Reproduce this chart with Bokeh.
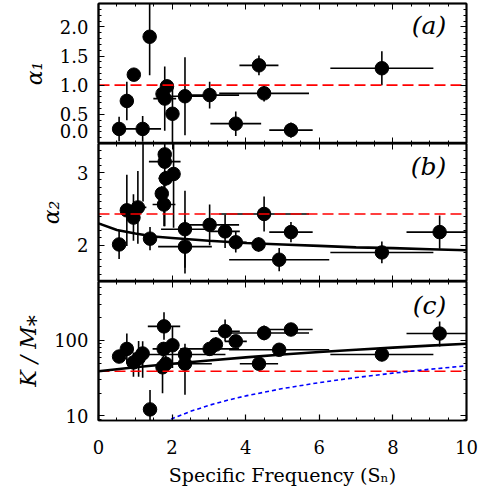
from bokeh.plotting import figure
from bokeh.layouts import column
from bokeh.models import (ColumnDataSource, FixedTicker, LinearAxis, LogAxis, Range1d,
                          Label, NumeralTickFormatter, BasicTickFormatter)
from bokeh.embed import file_html
from bokeh.resources import INLINE

# ---------------- data ----------------
# panel (a): alpha_1
a_x    = [0.56, 1.20, 0.77, 0.96, 1.39, 1.74, 1.80, 1.86, 2.01, 2.35, 3.02, 3.73, 4.36, 4.50, 5.23, 7.70]
a_y    = [0.25, 0.25, 0.73, 1.18, 1.83, 0.85, 0.77, 0.98, 0.51, 0.81, 0.83, 0.34, 1.34, 0.86, 0.23, 1.29]
a_xerr = [0.08, 0.50, 0.10, 0.14, 0.18, 0.05, 0.31, 0.05, 0.05, 0.65, 0.80, 0.69, 0.53, 1.22, 0.59, 1.40]
a_yerr = [0.21, 0.22, 0.33, 0.11, 0.66, 0.10, 0.55, 0.10, 0.49, 0.67, 0.23, 0.21, 0.17, 0.14, 0.13, 0.29]
a_ref = 1.0
a_ticks = [0.0, 0.5, 1.0, 1.5, 2.0]
a_tick_labels = ["0.0", "0.5", "1.0", "1.5", "2.0"]

# panel (b): alpha_2
b_x    = [0.56, 0.77, 0.95, 1.07, 1.21, 1.40, 1.80, 1.80, 1.83, 2.04, 1.72, 1.78, 2.35, 2.35, 3.02, 3.44, 3.73, 4.35, 4.50, 5.23, 4.91, 7.70, 9.27]
b_y    = [2.01, 2.48, 2.38, 2.52, 3.60, 2.09, 3.25, 3.15, 2.92, 2.98, 2.71, 2.56, 2.22, 1.98, 2.28, 2.19, 2.04, 2.01, 2.43, 2.18, 1.80, 1.90, 2.18]
b_xerr = [0.05, 0.10, 0.10, 0.23, 0.10, 0.17, 0.05, 0.43, 0.20, 0.05, 0.05, 0.31, 0.65, 0.73, 0.80, 0.40, 0.30, 0.15, 1.22, 0.59, 1.36, 1.40, 0.90]
b_yerr = [0.20, 0.49, 0.32, 0.50, 1.00, 0.16, 0.99, 0.10, 0.10, 0.74, 0.10, 0.30, 0.53, 0.37, 0.28, 0.23, 0.14, 0.10, 0.24, 0.14, 0.16, 0.15, 0.23]
b_ref = 2.43
b_fit_x = [0, 0.5, 1, 1.5, 2, 3, 4, 5, 6, 7, 8, 9, 10]
b_fit_y = [2.30, 2.21, 2.16, 2.12, 2.10, 2.06, 2.03, 2.01, 1.99, 1.97, 1.96, 1.945, 1.93]
b_ticks = [2, 3]

# panel (c): K / M*
c_x    = [0.56, 0.77, 0.95, 1.09, 1.20, 1.40, 1.78, 1.77, 1.83, 1.74, 2.01, 2.35, 2.35, 3.02, 3.19, 3.44, 3.73, 4.36, 4.50, 5.23, 4.91, 7.70, 9.27]
c_y    = [61, 77, 51, 58, 67, 12.2, 153, 77, 49, 44, 86, 65, 49, 77, 88, 132, 97, 49, 125, 139, 75, 65, 123]
c_ylo  = [55, 49, 33, 33, 32, 8, 102, 60, 38, 20, 43, 45, 19, 63, 70, 97, 82, 42, 100, 125, 62, 53, 83]
c_yhi  = [68, 123, 69, 98, 97, 22, 236, 95, 62, 61, 153, 90, 75, 95, 110, 188, 115, 57, 157, 155, 90, 80, 178]
c_xerr = [0.08, 0.10, 0.10, 0.10, 0.10, 0.17, 0.44, 0.30, 0.05, 0.05, 0.05, 1.10, 0.73, 0.80, 0.10, 0.40, 0.30, 0.52, 1.22, 0.59, 1.36, 1.40, 0.90]
c_ref = 39
c_fit_x = [0, 1, 2, 3, 4, 5, 6, 7, 8, 9, 10]
c_fit_y = [39, 44, 49, 54, 59.5, 65, 70, 75, 80, 85, 90]
c_blue_x = [1.8, 2, 2.5, 3, 3.5, 4, 5, 6, 7, 8, 9, 10]
c_blue_y = [8.3, 9.2, 11.5, 13.8, 16.1, 18.4, 23, 27.6, 32.2, 36.8, 41.4, 46]
c_ticks = [10, 100]

x_ticks = [0, 2, 4, 6, 8, 10]
x_minor = [i * 0.5 for i in range(21)]

FONT = "DejaVu Serif"
FW = 368
LEFT = 98
RIGHT = 24
A_ZERO_LABEL_SHIFT = 0.21   # the "0.0" label sits a little above the panel edge in the original


def base_style(ax):
    ax.axis_line_color = "black"
    ax.axis_line_width = 1.5
    ax.major_tick_line_width = 1.2
    ax.minor_tick_line_width = 1.0
    ax.major_tick_out = 0
    ax.minor_tick_out = 0


def hidden_axes(p, side, majors, minors, log):
    AxCls = LogAxis if log else LinearAxis
    for pos, ln in ((majors, 6), (minors, 3)):
        ax = AxCls(ticker=FixedTicker(ticks=[], minor_ticks=pos))
        base_style(ax)
        ax.major_tick_in = 0
        ax.minor_tick_in = ln
        ax.major_label_standoff = 0
        ax.axis_label_standoff = 0
        p.add_layout(ax, side)


def make_panel(fh, yr, log, yticks, yminor, label_pos, yfmt, overrides, ylabel,
               bottom_labels, top_border):
    p = figure(frame_width=FW, frame_height=fh, x_range=Range1d(0, 10), y_range=yr,
               y_axis_type="log" if log else "linear",
               x_axis_location=None, y_axis_location=None,
               output_backend="svg", toolbar_location=None,
               min_border_left=LEFT, min_border_right=RIGHT,
               min_border_top=top_border, min_border_bottom=0,
               background_fill_color="white", border_fill_color="white",
               outline_line_color="black", outline_line_width=1.5)
    p.xgrid.visible = False
    p.ygrid.visible = False
    AxCls = LogAxis if log else LinearAxis
    # tick marks on the left (inside), then the labelled axis without tick marks
    hidden_axes(p, "left", yticks, yminor, log)
    yl = AxCls(ticker=FixedTicker(ticks=label_pos, minor_ticks=[]), formatter=yfmt)
    base_style(yl)
    yl.major_tick_in = 0
    yl.minor_tick_in = 0
    if overrides is not None:
        yl.major_label_overrides = overrides
    yl.major_label_text_font = FONT
    yl.major_label_text_font_size = "18px"
    yl.major_label_text_color = "black"
    yl.major_label_standoff = 10
    yl.axis_label = ylabel
    yl.axis_label_text_font = FONT
    yl.axis_label_text_font_style = "italic"
    yl.axis_label_text_font_size = "22px"
    yl.axis_label_text_color = "black"
    yl.axis_label_standoff = 10
    p.add_layout(yl, "left")
    hidden_axes(p, "right", yticks, yminor, log)
    hidden_axes(p, "above", x_ticks, x_minor, False)
    if bottom_labels:
        xb = LinearAxis(ticker=FixedTicker(ticks=x_ticks, minor_ticks=x_minor),
                        formatter=BasicTickFormatter())
        base_style(xb)
        xb.major_tick_in = 6
        xb.minor_tick_in = 3
        xb.major_label_text_font = FONT
        xb.major_label_text_font_size = "18px"
        xb.major_label_text_color = "black"
        xb.major_label_standoff = 19
        xb.axis_label = "Specific Frequency (S\u2099)"
        xb.axis_label_text_font = FONT
        xb.axis_label_text_font_style = "normal"
        xb.axis_label_text_font_size = "19px"
        xb.axis_label_text_color = "black"
        xb.axis_label_standoff = 7
        p.add_layout(xb, "below")
    else:
        hidden_axes(p, "below", x_ticks, x_minor, False)
    return p


def add_points(p, xs, ys, xlo, xhi, ylo, yhi):
    src = ColumnDataSource(dict(x=xs, y=ys, xlo=xlo, xhi=xhi, ylo=ylo, yhi=yhi))
    p.segment(x0="xlo", y0="y", x1="xhi", y1="y", source=src, line_color="black", line_width=1.6)
    p.segment(x0="x", y0="ylo", x1="x", y1="yhi", source=src, line_color="black", line_width=1.6)
    p.scatter(x="x", y="y", source=src, size=13.5, marker="circle",
              fill_color="black", line_color="black")


def panel_tag(p, y, txt):
    p.add_layout(Label(x=9.45, y=y, text=txt, text_align="right", text_baseline="middle",
                       text_font=FONT, text_font_style="italic", text_font_size="25px",
                       text_color="black"))


# ---------- panel a ----------
a_label_pos = [A_ZERO_LABEL_SHIFT] + a_ticks[1:]
a_over = {A_ZERO_LABEL_SHIFT: a_tick_labels[0]}
for t, s in zip(a_ticks[1:], a_tick_labels[1:]):
    a_over[t] = s
pa = make_panel(140, Range1d(0.0, 2.4), False, a_ticks,
                [i * 0.1 for i in range(25)], a_label_pos,
                NumeralTickFormatter(format="0.0"), a_over,
                "\u03b1\u2081", False, 3)
add_points(pa, a_x, a_y,
           [x - e for x, e in zip(a_x, a_xerr)], [x + e for x, e in zip(a_x, a_xerr)],
           [y - e for y, e in zip(a_y, a_yerr)], [y + e for y, e in zip(a_y, a_yerr)])
pa.line(x=[0, 10], y=[a_ref, a_ref], line_color="#ff0000", line_width=1.6, line_dash="11 5")
panel_tag(pa, 2.02, "(a)")

# ---------- panel b ----------
pb = make_panel(138, Range1d(1.5, 3.4), False, b_ticks,
                [1.5 + i * 0.1 for i in range(20)], b_ticks,
                NumeralTickFormatter(format="0"), None,
                "\u03b1\u2082", False, 0)
add_points(pb, b_x, b_y,
           [x - e for x, e in zip(b_x, b_xerr)], [x + e for x, e in zip(b_x, b_xerr)],
           [y - e for y, e in zip(b_y, b_yerr)], [y + e for y, e in zip(b_y, b_yerr)])
pb.line(x=[0, 10], y=[b_ref, b_ref], line_color="#ff0000", line_width=1.6, line_dash="11 5")
pb.line(x=b_fit_x, y=b_fit_y, line_color="black", line_width=2.6)
panel_tag(pb, 3.08, "(b)")

# ---------- panel c ----------
c_minor = [9] + [k * 10 for k in range(2, 10)] + [k * 100 for k in range(2, 7)]
pc = make_panel(139, Range1d(8.7, 600), True, c_ticks, c_minor, c_ticks,
                BasicTickFormatter(), None, "K / M\u204e", True, 0)
add_points(pc, c_x, c_y,
           [x - e for x, e in zip(c_x, c_xerr)], [x + e for x, e in zip(c_x, c_xerr)],
           c_ylo, c_yhi)
pc.line(x=[0, 10], y=[c_ref, c_ref], line_color="#ff0000", line_width=1.6, line_dash="11 5")
pc.line(x=c_fit_x, y=c_fit_y, line_color="black", line_width=2.6)
pc.line(x=c_blue_x, y=c_blue_y, line_color="#0000ff", line_width=1.6, line_dash="4 3")
panel_tag(pc, 292, "(c)")

layout = column(pa, pb, pc, spacing=0)
open("out.html", "w").write(file_html(layout, INLINE))
